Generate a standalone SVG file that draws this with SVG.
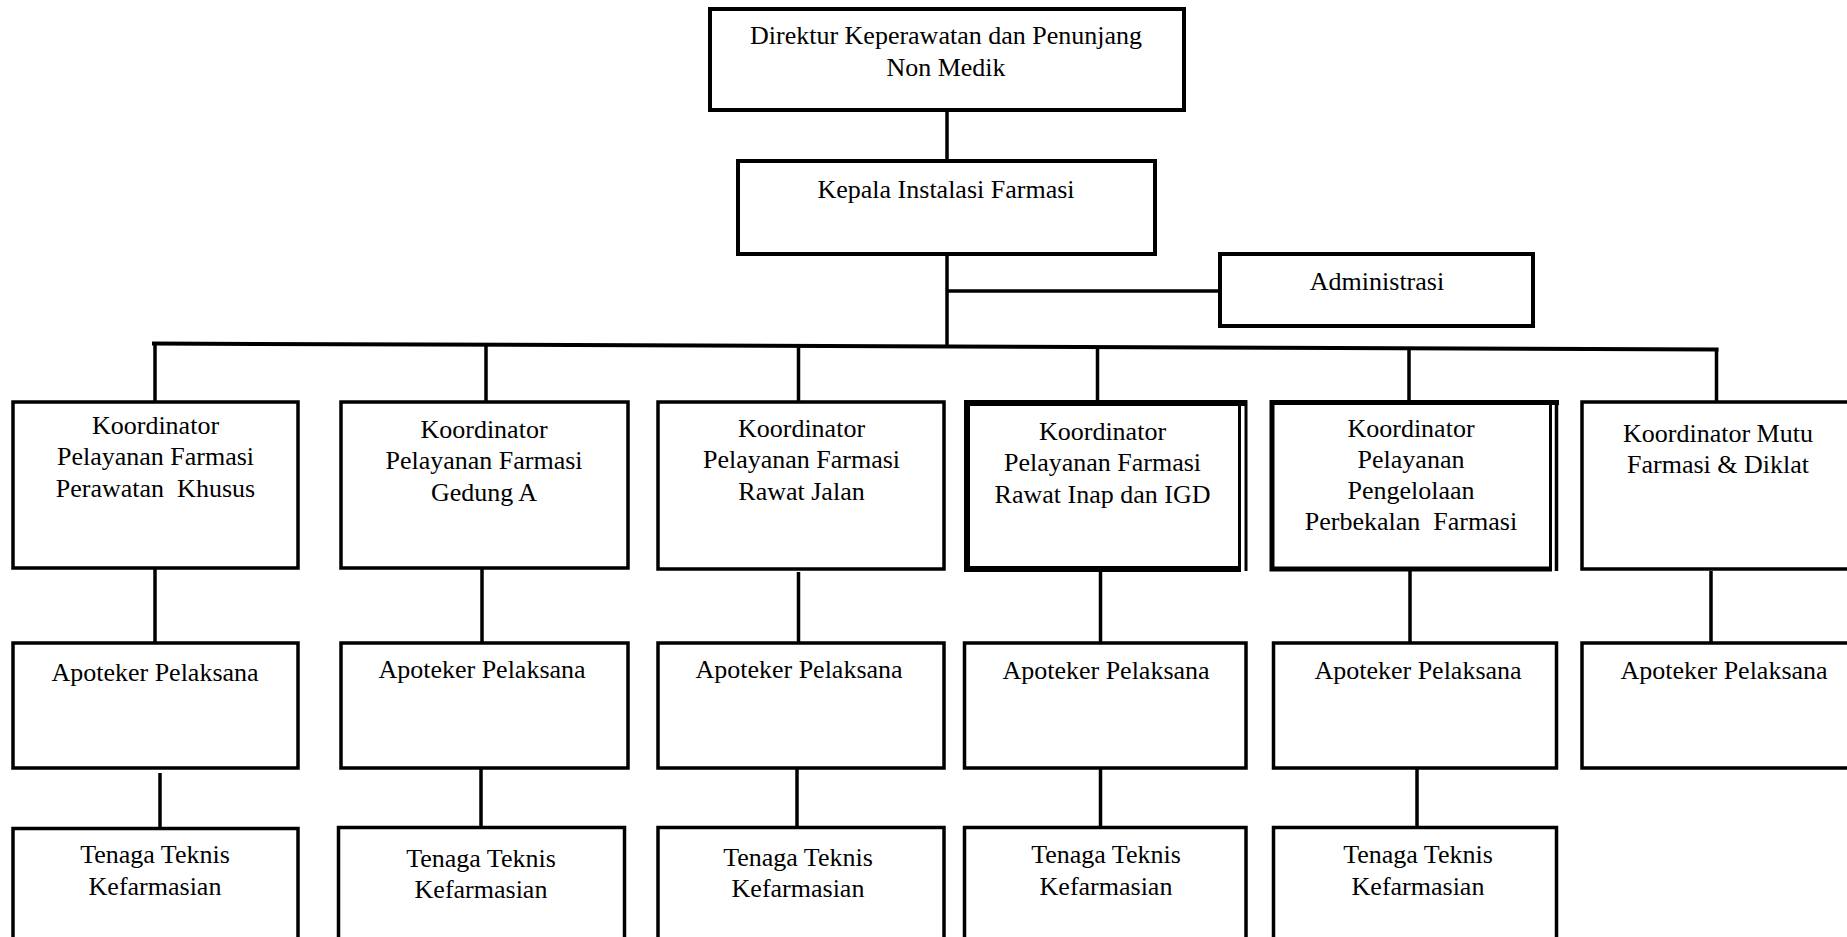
<svg xmlns="http://www.w3.org/2000/svg" width="1847" height="937" viewBox="0 0 1847 937">
<style>
.box{fill:#fff;stroke:#000;stroke-width:3.5}
.top{fill:#fff;stroke:#000;stroke-width:4}
.ln{stroke:#000;stroke-width:3.5;fill:none}
text{font-family:"Liberation Serif","Times New Roman",serif;font-size:26px;fill:#000;text-anchor:middle}
</style>
<rect width="1847" height="937" fill="#fff"/>
<g id="connectors">
<line class="ln" x1="947" y1="110" x2="947" y2="160"/>
<line class="ln" x1="947" y1="255" x2="947" y2="347"/>
<line class="ln" x1="947" y1="291" x2="1220" y2="291"/>
<line x1="152" y1="343.5" x2="1718.5" y2="349.5" stroke="#000" stroke-width="4"/>
<line class="ln" x1="155" y1="343" x2="155" y2="401"/>
<line class="ln" x1="486" y1="344" x2="486" y2="401"/>
<line class="ln" x1="798.5" y1="346" x2="798.5" y2="403"/>
<line class="ln" x1="1097.5" y1="347" x2="1097.5" y2="408"/>
<line class="ln" x1="1409" y1="348" x2="1409" y2="407"/>
<line class="ln" x1="1716.5" y1="348" x2="1716.5" y2="405"/>
<line class="ln" x1="155" y1="568" x2="155" y2="643"/>
<line class="ln" x1="482" y1="568" x2="482" y2="643"/>
<line class="ln" x1="798.5" y1="572" x2="798.5" y2="643"/>
<line class="ln" x1="1100.5" y1="566" x2="1100.5" y2="643"/>
<line class="ln" x1="1410" y1="571" x2="1410" y2="643"/>
<line class="ln" x1="1711" y1="571" x2="1711" y2="643"/>
<line class="ln" x1="160" y1="773" x2="160" y2="828"/>
<line class="ln" x1="481" y1="768" x2="481" y2="827"/>
<line class="ln" x1="797" y1="768" x2="797" y2="827"/>
<line class="ln" x1="1100.5" y1="768" x2="1100.5" y2="827"/>
<line class="ln" x1="1417" y1="768" x2="1417" y2="827"/>
</g>
<g id="direktur">
<rect class="top" x="710" y="9" width="474" height="101"/>
<text x="946" y="44">Direktur Keperawatan dan Penunjang</text>
<text x="946" y="76">Non Medik</text>
</g>
<g id="kepala">
<rect class="top" x="738" y="161" width="417" height="93"/>
<text x="946" y="198">Kepala Instalasi Farmasi</text>
</g>
<g id="administrasi">
<rect class="top" x="1220" y="254" width="313" height="72"/>
<text x="1377" y="290">Administrasi</text>
</g>
<g id="koord-khusus">
<rect class="box" x="13" y="402" width="285" height="166"/>
<text x="155.5" y="434">Koordinator</text>
<text x="155.5" y="465">Pelayanan Farmasi</text>
<text x="155.5" y="497" xml:space="preserve">Perawatan  Khusus</text>
</g>
<g id="koord-gedung-a">
<rect class="box" x="341" y="402" width="287" height="166"/>
<text x="484" y="438">Koordinator</text>
<text x="484" y="469">Pelayanan Farmasi</text>
<text x="484" y="501">Gedung A</text>
</g>
<g id="koord-rawat-jalan">
<rect class="box" x="658" y="402" width="286" height="167"/>
<text x="801.5" y="437">Koordinator</text>
<text x="801.5" y="468">Pelayanan Farmasi</text>
<text x="801.5" y="500">Rawat Jalan</text>
</g>
<g id="koord-rawat-inap">
<rect x="966" y="404" width="274" height="166" fill="#fff"/>
<path d="M1247,403 H967 V569 H1241" fill="none" stroke="#000" stroke-width="6"/>
<line x1="1239.5" y1="404" x2="1239.5" y2="570" stroke="#000" stroke-width="3"/>
<line x1="1246" y1="400" x2="1246" y2="571" stroke="#000" stroke-width="3"/>
<text x="1102.5" y="440">Koordinator</text>
<text x="1102.5" y="471">Pelayanan Farmasi</text>
<text x="1102.5" y="503">Rawat Inap dan IGD</text>
</g>
<g id="koord-perbekalan">
<rect x="1272" y="403" width="278" height="166" fill="#fff"/>
<path d="M1559,402.5 H1272 V569 H1552" fill="none" stroke="#000" stroke-width="5"/>
<line x1="1550.5" y1="403" x2="1550.5" y2="570" stroke="#000" stroke-width="3"/>
<line x1="1556.5" y1="400" x2="1556.5" y2="571" stroke="#000" stroke-width="3.5"/>
<text x="1411" y="437">Koordinator</text>
<text x="1411" y="468">Pelayanan</text>
<text x="1411" y="499">Pengelolaan</text>
<text x="1411" y="530" xml:space="preserve">Perbekalan  Farmasi</text>
</g>
<g id="koord-mutu">
<rect class="box" x="1582" y="402" width="290" height="167"/>
<text x="1718" y="442">Koordinator Mutu</text>
<text x="1718" y="473">Farmasi &amp; Diklat</text>
</g>
<g id="apoteker-1">
<rect class="box" x="13" y="643" width="285" height="125"/>
<text x="155" y="681">Apoteker Pelaksana</text>
</g>
<g id="apoteker-2">
<rect class="box" x="341" y="643" width="287" height="125"/>
<text x="482" y="678">Apoteker Pelaksana</text>
</g>
<g id="apoteker-3">
<rect class="box" x="658" y="643" width="286" height="125"/>
<text x="799" y="678">Apoteker Pelaksana</text>
</g>
<g id="apoteker-4">
<rect class="box" x="964.5" y="643" width="281.5" height="125"/>
<text x="1106" y="679">Apoteker Pelaksana</text>
</g>
<g id="apoteker-5">
<rect class="box" x="1273.5" y="643" width="283" height="125"/>
<text x="1418" y="679">Apoteker Pelaksana</text>
</g>
<g id="apoteker-6">
<rect class="box" x="1582" y="643" width="290" height="125"/>
<text x="1724" y="679">Apoteker Pelaksana</text>
</g>
<g id="tenaga-1">
<rect class="box" x="13" y="828.5" width="285" height="130"/>
<text x="155" y="863">Tenaga Teknis</text>
<text x="155" y="895">Kefarmasian</text>
</g>
<g id="tenaga-2">
<rect class="box" x="338.5" y="827.5" width="286" height="130"/>
<text x="481" y="867">Tenaga Teknis</text>
<text x="481" y="898">Kefarmasian</text>
</g>
<g id="tenaga-3">
<rect class="box" x="658" y="827.5" width="286" height="130"/>
<text x="798" y="866">Tenaga Teknis</text>
<text x="798" y="897">Kefarmasian</text>
</g>
<g id="tenaga-4">
<rect class="box" x="964.5" y="827.5" width="281.5" height="130"/>
<text x="1106" y="863">Tenaga Teknis</text>
<text x="1106" y="895">Kefarmasian</text>
</g>
<g id="tenaga-5">
<rect class="box" x="1273.5" y="827.5" width="283" height="130"/>
<text x="1418" y="863">Tenaga Teknis</text>
<text x="1418" y="895">Kefarmasian</text>
</g>
</svg>
